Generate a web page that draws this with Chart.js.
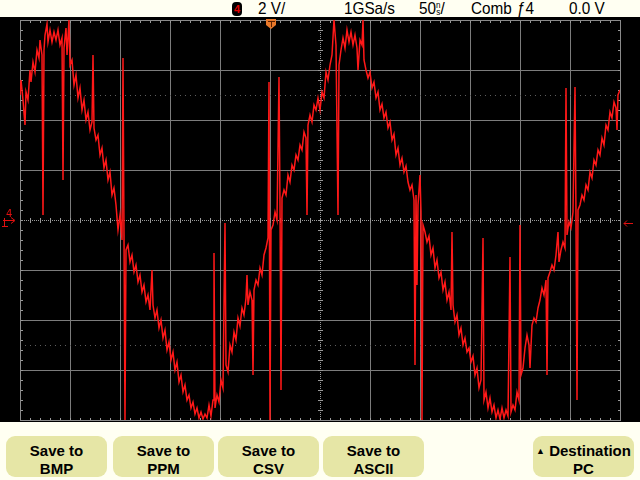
<!DOCTYPE html>
<html>
<head>
<meta charset="utf-8">
<script src="https://cdn.jsdelivr.net/npm/chart.js"></script>
<style>
  html, body { margin: 0; padding: 0; background: #fffff2; }
  body { width: 640px; height: 480px; position: relative; overflow: hidden; font-family: "Liberation Sans", Arial, sans-serif; }
  #top { position: absolute; left: 0; top: 0; width: 640px; height: 17px; background: #fffff2; }
  #top .t { position: absolute; top: 0; font-size: 17px; line-height: 17px; color: #000; transform: scaleX(0.9); transform-origin: left top; white-space: nowrap; }
  #badge { position: absolute; left: 232px; top: 2px; width: 10px; height: 14px; background: #000; border-radius: 4px; color: #e00000; font-size: 11px; font-weight: bold; line-height: 14px; text-align: center; }
  .stack { display: inline-block; font-size: 9px; line-height: 7px; vertical-align: top; margin-top: 2px; text-align: center; }
  #scope { position: absolute; left: 0; top: 17px; background: #000; }
  #bottom { position: absolute; left: 0; top: 422px; width: 640px; height: 58px; background: #fffff2; }
  .key { position: absolute; top: 14px; height: 41px; width: 101px; background: #e6e6a6; border-radius: 9px; font-weight: bold; font-size: 15px; line-height: 18px; text-align: center; padding-top: 6px; box-sizing: border-box; color: #000; }
</style>
</head>
<body>
<div id="top">
  <div id="badge">4</div>
  <span class="t" style="left:258px">2 V/</span>
  <span class="t" style="left:344px">1GSa/s</span>
  <span class="t" style="left:419px">50<span class="stack">n<br>s</span>/</span>
  <span class="t" style="left:471px">Comb</span>
  <span class="t" style="left:517px">ƒ4</span>
  <span class="t" style="left:569px">0.0 V</span>
</div>
<canvas id="scope" width="640" height="405"></canvas>
<div id="bottom">
  <div class="key" style="left:6px">Save to<br>BMP</div>
  <div class="key" style="left:113px">Save to<br>PPM</div>
  <div class="key" style="left:218px">Save to<br>CSV</div>
  <div class="key" style="left:323px">Save to<br>ASCII</div>
  <div class="key" style="left:533px"><span style="font-size:9px;vertical-align:2px">▲</span> Destination<br>PC</div>
</div>
<script>
// time in ns, channel 4 in volts (2 V/div, 50 ns/div)
var peak1 = [[-300,5.0],[-299,5.6],[-297,4.8],[-295,3.8],[-294,5.12],[-292,4.8],[-290,6.0],[-289,5.52],[-287,6.32],[-285,5.92],[-283,6.8],[-281,6.48],[-280,7.2],[-278,6.6],[-277,0.2],[-276,6.8],[-275,7.4],[-273,7.84],[-272,7.12],[-270,7.6],[-268,7.12],[-266,7.52],[-264,7.2],[-262,7.6],[-260,7.0],[-258,7.28],[-257,1.6],[-256,6.88],[-254,7.68],[-253,6.6],[-251,8.0],[-250,6.2],[-248,6.4],[-246,5.4],[-244,5.8],[-242,4.88],[-240,5.28],[-238,4.4],[-236,4.8],[-234,4.0],[-232,4.32],[-230,3.6],[-228,3.92],[-227,6.6],[-226,3.68],[-224,3.2],[-222,3.4],[-220,2.6],[-218,2.88],[-216,2.08],[-214,2.4],[-212,1.6],[-210,1.92],[-208,1.0],[-206,1.28],[-204,0.6],[-202,-0.4],[-200,0.2],[-198,-0.8],[-197,6.48],[-196,-0.6],[-195,-8.0]];
var trough1 = [[-194,-1.2],[-192,-1.0],[-190,-1.68],[-188,-1.4],[-186,-2.08],[-184,-1.8],[-182,-2.48],[-180,-2.2],[-178,-2.88],[-176,-2.6],[-174,-3.28],[-172,-3.0],[-170,-3.6],[-168,-2.0],[-167,-3.4],[-165,-3.92],[-163,-3.6],[-161,-4.32],[-159,-4.0],[-157,-4.72],[-155,-4.4],[-153,-5.2],[-151,-4.88],[-149,-5.6],[-147,-5.28],[-145,-6.0],[-143,-5.68],[-141,-6.48],[-139,-6.2],[-137,-6.88],[-135,-6.6],[-133,-7.2],[-131,-7.0],[-129,-7.52],[-127,-7.28],[-125,-7.76],[-123,-7.52],[-121,-7.92],[-119,-7.68],[-117,-7.96],[-115,-7.76],[-113,-7.92],[-111,-7.4],[-109,-7.84],[-107,-7.2],[-106,-1.32],[-105,-7.52],[-103,-7.0],[-101,-7.28]];
var rise1 = [[-99,-6.4],[-97,-6.72],[-95,-0.12],[-94,-5.8],[-92,-6.08],[-90,-5.0],[-88,-5.28],[-86,-4.48],[-84,-4.8],[-82,-3.92],[-80,-4.24],[-78,-3.52],[-76,-3.8],[-74,-3.12],[-73,-2.2],[-72,-3.4],[-70,-2.88],[-68,-3.2],[-67,-6.2],[-66,-2.8],[-64,-2.4],[-62,-2.6],[-60,-1.92],[-58,-2.2],[-56,-1.4],[-54,-1.12],[-52,-0.72],[-51,5.52],[-50,-8.0],[-49,-0.4],[-47,-0.2],[-45,0.32],[-43,0.0],[-41,5.72],[-40,0.6],[-39,-6.8],[-38,0.88],[-36,1.2],[-34,1.0],[-32,1.8],[-30,1.52],[-28,2.2],[-26,2.0],[-24,2.6],[-22,2.4],[-20,3.0],[-18,2.8],[-16,3.52],[-14,3.28],[-13,0.2],[-12,3.8],[-10,4.2],[-8,3.92],[-6,4.6],[-4,4.4],[-2,4.88],[0,4.4]];
var peak2 = [[2,5.12],[4,4.88],[6,5.92],[8,5.6],[10,6.2],[12,6.6],[14,8.0],[16,7.0],[18,0.2],[19,6.2],[21,6.8],[23,7.28],[25,6.88],[27,7.6],[29,7.12],[31,7.52],[33,7.0],[35,7.4],[37,6.88],[38,6.0],[40,7.2],[42,7.0],[43,8.0],[44,6.4],[46,6.0],[48,5.68],[50,5.92],[52,5.28],[54,5.52],[56,4.88],[58,5.12],[60,4.4],[62,4.64],[64,4.08],[66,4.32],[68,3.68],[70,3.92],[72,3.2],[74,3.44],[76,2.6],[78,2.88],[80,2.2],[82,2.48],[84,1.92],[86,2.16],[88,1.52],[90,1.2],[92,1.4],[94,0.8],[95,-5.8],[96,1.0],[97,-2.6],[98,0.6],[100,1.8],[101,0.32]];
var fall2 = [[102,-8.0],[103,-0.2],[105,-0.48],[107,-0.88],[109,-0.64],[111,-1.4],[113,-1.12],[115,-1.92],[117,-1.6],[119,-2.32],[121,-2.08],[123,-2.8],[125,-2.48],[127,-3.2],[129,-2.88],[131,-3.6],[132,-0.48],[133,-3.4],[135,-4.08],[137,-3.8],[139,-4.6],[141,-4.32],[143,-5.0],[145,-4.72],[147,-5.28],[149,-5.12],[151,-5.68],[153,-5.44],[155,-6.2],[157,-5.92],[159,-6.72],[161,-6.4],[163,-0.72],[164,-7.2],[166,-6.88],[168,-7.52],[170,-7.12],[172,-7.68],[174,-7.4],[176,-7.92],[178,-7.6],[180,-7.96],[182,-7.52],[184,-7.92],[186,-7.6],[188,-7.84],[190,-1.48],[191,-7.68],[193,-7.4],[195,-7.6],[197,-6.88],[199,-7.2]];
var rise2 = [[200,-0.2],[201,-6.2],[203,-5.92],[205,-5.12],[207,-4.6],[209,-5.0],[210,-5.92],[212,-4.2],[214,-3.92],[216,-4.08],[218,-3.52],[220,-3.2],[222,-2.72],[224,-3.0],[226,-2.4],[227,-6.2],[228,-2.32],[230,-2.08],[232,-1.8],[234,-2.0],[236,-1.4],[238,-0.48],[239,-1.68],[241,-1.2],[243,-0.88],[245,-1.12],[246,5.28],[247,-0.6],[249,-0.08],[251,-0.32],[253,0.32],[255,5.32],[256,0.08],[257,-7.2],[258,0.4],[260,0.6],[262,1.0],[264,0.8],[266,1.4],[268,1.2],[270,1.92],[272,1.68],[274,2.4],[276,2.2],[278,2.8],[280,2.6],[282,3.28],[284,3.0],[286,3.8],[288,3.6],[290,4.32],[292,4.08],[294,4.72],[296,4.48],[297,3.6],[298,5.0],[300,5.2]];

var timeDivs = [-300, -250, -200, -150, -100, -50, 0, 50, 100, 150, 200, 250, 300];
var voltDivs = [-8, -6, -4, -2, 0, 2, 4, 6, 8];
var markerVolts = [-5, 5];
var trigTime = -50;
var trigLevel = 0;

var trace = peak1.concat(trough1, rise1, peak2, fall2, rise2).map(function (p) {
  return { x: p[0], y: p[1] };
});

var scopeGrid = {
  id: "scopeGrid",
  beforeDatasetsDraw: function (chart) {
    var ctx = chart.ctx, a = chart.chartArea, x = chart.scales.x, y = chart.scales.y;
    ctx.save();
    ctx.strokeStyle = "#7c7c7c";
    ctx.lineWidth = 1;
    ctx.beginPath();
    timeDivs.forEach(function (t) {
      if (t === 0) return;
      var px = Math.round(x.getPixelForValue(t)) + 0.5;
      ctx.moveTo(px, a.top); ctx.lineTo(px, a.bottom);
    });
    voltDivs.forEach(function (v) {
      if (v === 0) return;
      var py = Math.round(y.getPixelForValue(v)) + 0.5;
      ctx.moveTo(a.left, py); ctx.lineTo(a.right, py);
    });
    ctx.stroke();

    var cx = Math.round(x.getPixelForValue(0)), cy = Math.round(y.getPixelForValue(0));
    var sub = (x.getPixelForValue(50) - x.getPixelForValue(0)) / 5;
    var subY = (y.getPixelForValue(0) - y.getPixelForValue(2)) / 5;
    // dotted centre lines
    ctx.fillStyle = "#9a9a9a";
    for (var px = a.left; px <= a.right; px += 2) ctx.fillRect(px, cy, 1, 1);
    for (var py = a.top; py <= a.bottom; py += 2) ctx.fillRect(cx, py, 1, 1);
    // minor ticks on centre lines and border
    for (var i = 0; i <= 60; i++) {
      var tx = Math.round(a.left + i * sub);
      ctx.fillRect(tx, cy - 2, 1, 5);
      ctx.fillRect(tx, a.top, 1, 3);
      ctx.fillRect(tx, a.bottom - 2, 1, 3);
    }
    for (var j = 0; j <= 40; j++) {
      var ty = Math.round(a.top + j * subY);
      ctx.fillRect(cx - 2, ty, 5, 1);
      ctx.fillRect(a.left, ty, 3, 1);
      ctx.fillRect(a.right - 2, ty, 3, 1);
    }
    // faint marker rows
    ctx.fillStyle = "#5e5e5e";
    markerVolts.forEach(function (v) {
      var my = Math.round(y.getPixelForValue(v));
      for (var k = a.left; k <= a.right; k += 5) ctx.fillRect(k, my, 1, 1);
    });
    // border
    ctx.strokeStyle = "#8a8a8a";
    ctx.strokeRect(a.left + 0.5, a.top + 0.5, a.right - a.left, a.bottom - a.top);
    ctx.restore();
  },
  afterDraw: function (chart) {
    var ctx = chart.ctx, x = chart.scales.x, y = chart.scales.y;
    ctx.save();
    // trigger position tag
    var tx = Math.round(x.getPixelForValue(trigTime)) + 1;
    ctx.fillStyle = "#e8782a";
    ctx.beginPath();
    ctx.moveTo(tx - 5, 2); ctx.lineTo(tx + 5, 2); ctx.lineTo(tx + 5, 8);
    ctx.lineTo(tx, 12); ctx.lineTo(tx - 5, 8); ctx.closePath(); ctx.fill();
    ctx.fillStyle = "#5a2000";
    ctx.fillRect(tx - 3, 4, 7, 1);
    ctx.fillRect(tx, 4, 1, 6);
    // channel 4 ground marker
    var gy = Math.round(y.getPixelForValue(0));
    ctx.fillStyle = "#e01010";
    ctx.strokeStyle = "#e01010";
    ctx.font = "10px 'DejaVu Sans'";
    ctx.fillText("4", 6, gy - 3);
    ctx.beginPath();
    ctx.moveTo(3, gy + 0.5); ctx.lineTo(14, gy + 0.5);
    ctx.moveTo(11, gy - 2.5); ctx.lineTo(15, gy + 0.5); ctx.lineTo(11, gy + 3.5);
    ctx.moveTo(4.5, gy - 2); ctx.lineTo(4.5, gy + 6);
    ctx.moveTo(2, gy + 6.5); ctx.lineTo(8, gy + 6.5);
    ctx.stroke();
    // trigger level arrow
    var ly = Math.round(y.getPixelForValue(trigLevel)) + 3.5;
    ctx.beginPath();
    ctx.moveTo(624, ly); ctx.lineTo(633, ly);
    ctx.moveTo(627, ly - 3); ctx.lineTo(624, ly); ctx.lineTo(627, ly + 3);
    ctx.stroke();
    ctx.restore();
  }
};

var ctx = document.getElementById("scope").getContext("2d");
var scopeChart = new Chart(ctx, {
  type: "line",
  data: {
    datasets: [{
      label: "Ch4",
      data: trace,
      borderColor: "rgb(255, 24, 24)",
      borderWidth: 1.5,
      pointRadius: 0,
      tension: 0,
      fill: false
    }]
  },
  options: {
    responsive: false,
    animation: false,
    devicePixelRatio: 1,
    layout: { padding: { left: 20, right: 20, top: 3, bottom: 2 } },
    plugins: { legend: { display: false }, tooltip: { enabled: false } },
    scales: {
      x: { type: "linear", min: -300, max: 300, display: false },
      y: { type: "linear", min: -8, max: 8, display: false }
    }
  },
  plugins: [scopeGrid]
});
</script>
</body>
</html>
